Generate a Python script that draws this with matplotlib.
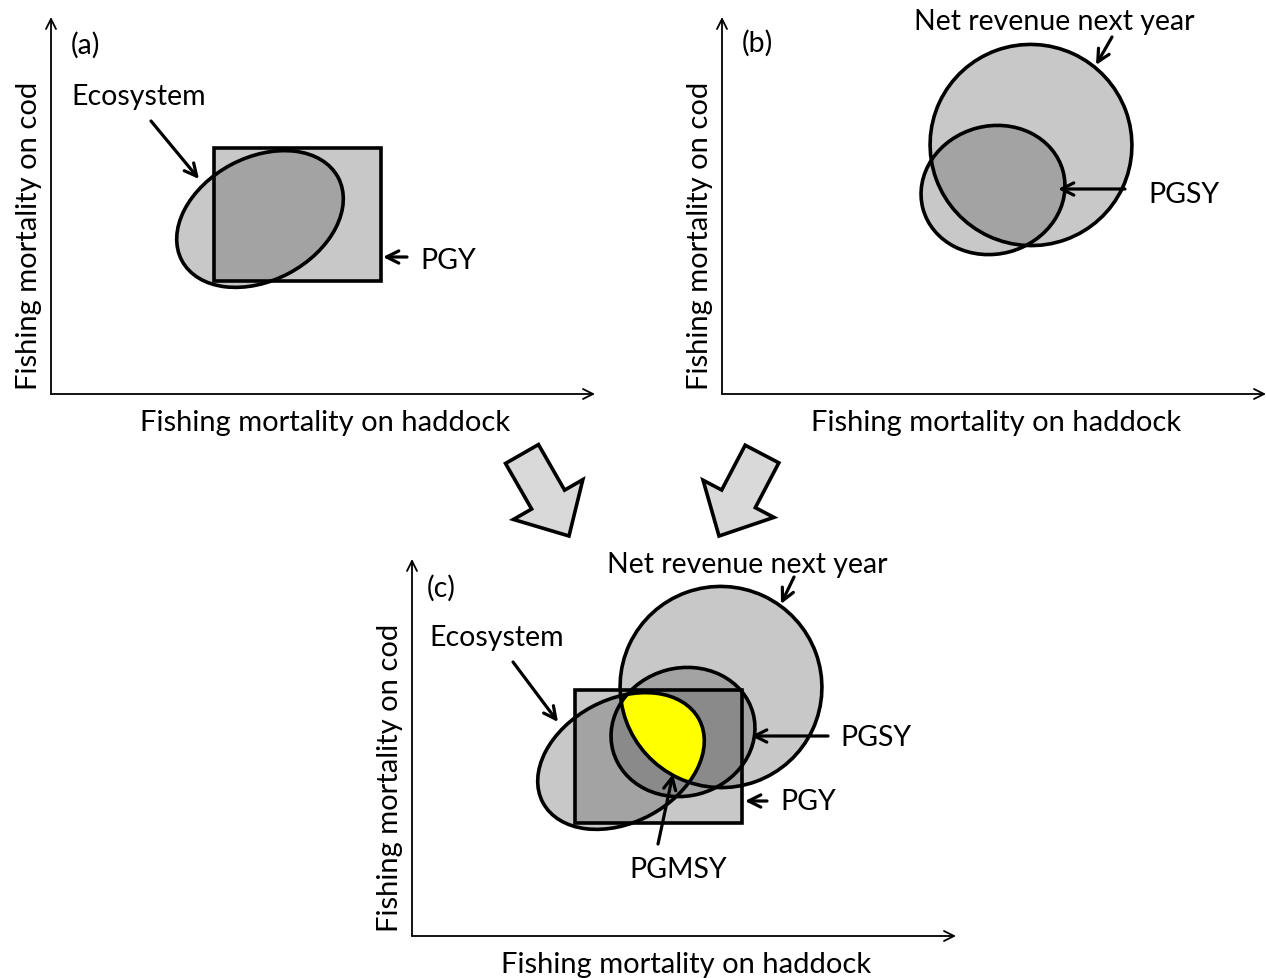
import matplotlib.pyplot as plt
from matplotlib.patches import Ellipse, Rectangle, FancyArrow

plt.rcParams['font.family'] = ['Lato', 'DejaVu Sans']

W, H = 1266, 979

# axis origin of each panel, in pixels (y down)
origins = {'a': (51, 395), 'b': (722, 395), 'c': (412, 937)}
x_len, y_len = 544, 377

# shapes relative to the panel origin
pgy_box = (163, -246, 167, 133)                # x0, y0, width, height
ecosystem = (209, -175, 177, 123, -28)         # cx, cy, width, height, angle
net_revenue = (309, -249, 202, 201, 25)
pgsy = (271, -204, 145, 128, -15)

panel_shapes = {
    'a': ['pgy', 'eco'],
    'b': ['nr', 'pgsy'],
    'c': ['pgy', 'eco', 'nr', 'pgsy'],
}

# text labels: (text, x, y) relative to panel origin
panel_labels = {
    'a': [('(a)', 34, -350), ('Ecosystem', 88, -298), ('PGY', 397, -134)],
    'b': [('(b)', 35, -352), ('Net revenue next year', 332, -373), ('PGSY', 462, -200)],
    'c': [('(c)', 29, -349), ('Ecosystem', 85, -299), ('Net revenue next year', 335, -372),
          ('PGSY', 464, -199), ('PGY', 396, -135), ('PGMSY', 266, -67)],
}
# callout arrows: (x_start, y_start, x_end, y_end) relative to panel origin
panel_callouts = {
    'a': [(100, -273, 148, -215), (356, -137, 332, -137)],
    'b': [(390, -357, 374, -329), (403, -205, 336, -205)],
    'c': [(101, -274, 146, -214), (382, -359, 369, -332), (416, -200, 339, -200),
          (355, -135, 333, -135), (246, -92, 261, -162)],
}

# big block arrows between the rows: (tail x, tail y, tip x, tip y)
block_arrows = [(522, 455, 569, 537), (762, 455, 719, 537)]

x_title = 'Fishing mortality on haddock'
y_title = 'Fishing mortality on cod'

shade = '#575757'
shade_alpha = 0.327
lw_shape = 2.6

fig = plt.figure(figsize=(W / 100, H / 100), dpi=100)
ax = fig.add_axes([0, 0, 1, 1])
ax.set_xlim(0, W)
ax.set_ylim(H, 0)
ax.axis('off')


def make_shape(name, ox, oy, **kw):
    if name == 'pgy':
        x0, y0, w, h = pgy_box
        return Rectangle((ox + x0, oy + y0), w, h, **kw)
    p = {'eco': ecosystem, 'nr': net_revenue, 'pgsy': pgsy}[name]
    return Ellipse((ox + p[0], oy + p[1]), p[2], p[3], angle=p[4], **kw)


for key, (ox, oy) in origins.items():
    # axes with open arrowheads
    arr = dict(arrowstyle='->', lw=1.3, color='black', mutation_scale=18,
               shrinkA=0, shrinkB=0)
    ax.annotate('', xy=(ox, oy - y_len), xytext=(ox, oy), arrowprops=arr)
    ax.annotate('', xy=(ox + x_len, oy), xytext=(ox, oy), arrowprops=arr)
    ax.text(ox + 274, oy + 28, x_title, fontsize=21, ha='center', va='center')
    ax.text(ox - 22, oy - 159, y_title, fontsize=21, ha='center', va='center',
            rotation=90)

    fills = {}
    for name in panel_shapes[key]:
        patch = make_shape(name, ox, oy, fc=shade, alpha=shade_alpha, ec='none')
        ax.add_patch(patch)
        fills[name] = patch

    if key == 'c':
        # PGMSY: where ecosystem and net revenue regions overlap
        yellow = make_shape('eco', ox, oy, fc='#ffff00', ec='none')
        ax.add_patch(yellow)
        yellow.set_clip_path(fills['nr'])

    for name in panel_shapes[key]:
        ax.add_patch(make_shape(name, ox, oy, fc='none', ec='black', lw=lw_shape))

    for txt, tx, ty in panel_labels[key]:
        ax.text(ox + tx, oy + ty, txt, fontsize=20.5, ha='center', va='center')

    for x0, y0, x1, y1 in panel_callouts[key]:
        ax.annotate('', xy=(ox + x1, oy + y1), xytext=(ox + x0, oy + y0),
                    arrowprops=dict(arrowstyle='->', lw=2.3, color='black',
                                    mutation_scale=22, shrinkA=0, shrinkB=0))

for x0, y0, x1, y1 in block_arrows:
    ax.add_patch(FancyArrow(x0, y0, x1 - x0, y1 - y0, width=38, head_width=80,
                            head_length=42, length_includes_head=True,
                            fc='#d9d9d9', ec='black', lw=2.6))

fig.savefig('out.png', dpi=100)
